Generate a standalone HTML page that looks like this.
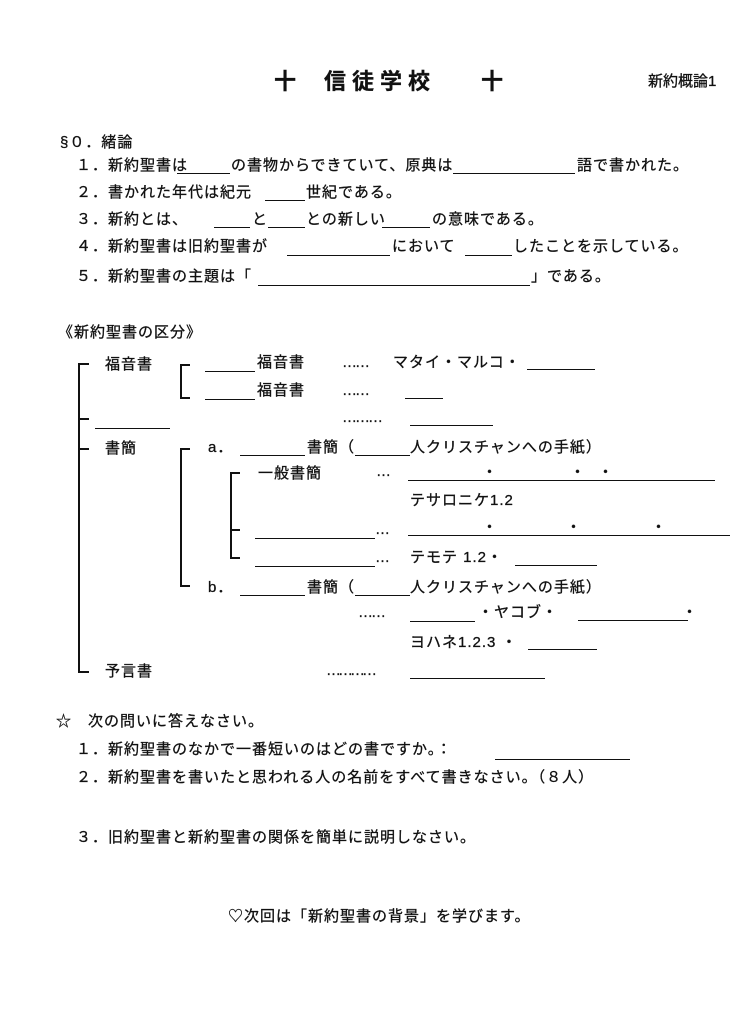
<!DOCTYPE html>
<html><head><meta charset="utf-8"><style>
body{margin:0;width:740px;height:1024px;background:#fff;position:relative;overflow:hidden;font-family:"Liberation Sans","Noto Sans CJK JP",sans-serif;color:#111}
.t{position:absolute;font-size:15px;line-height:16px;white-space:nowrap;letter-spacing:1px;-webkit-text-stroke:0.3px #111}
.l{position:absolute;border-top:1.3px solid #111;height:0}
.v{position:absolute;border-left:2px solid #111;width:0}
.h{position:absolute;border-top:2px solid #111;height:0}
.T{font-size:22px;line-height:22px;font-weight:bold;top:71px}
</style></head><body>
<div class="t T" style="left:274px">十</div>
<div class="t T" style="left:324px;letter-spacing:6px">信徒学校</div>
<div class="t T" style="left:481px">十</div>
<div class="t" style="left:648px;top:74px;letter-spacing:0">新約概論1</div>

<div class="t" style="left:60px;top:135px">§０．緒論</div>
<div class="t" style="left:76px;top:158px">１．新約聖書は</div><div class="l" style="left:177px;width:53px;top:173px"></div>
<div class="t" style="left:231px;top:158px">の書物からできていて、原典は</div><div class="l" style="left:453px;width:122px;top:173px"></div>
<div class="t" style="left:577px;top:158px">語で書かれた。</div>
<div class="t" style="left:76px;top:185px">２．書かれた年代は紀元</div><div class="l" style="left:265px;width:40px;top:200px"></div>
<div class="t" style="left:306px;top:185px">世紀である。</div>
<div class="t" style="left:76px;top:212px">３．新約とは、</div><div class="l" style="left:214px;width:36px;top:227px"></div>
<div class="t" style="left:252px;top:212px">と</div><div class="l" style="left:268px;width:37px;top:227px"></div>
<div class="t" style="left:306px;top:212px">との新しい</div><div class="l" style="left:382px;width:48px;top:227px"></div>
<div class="t" style="left:432px;top:212px">の意味である。</div>
<div class="t" style="left:76px;top:239px">４．新約聖書は旧約聖書が</div><div class="l" style="left:287px;width:103px;top:255px"></div>
<div class="t" style="left:392px;top:239px">において</div><div class="l" style="left:465px;width:47px;top:255px"></div>
<div class="t" style="left:513px;top:239px">したことを示している。</div>
<div class="t" style="left:76px;top:269px">５．新約聖書の主題は「</div><div class="l" style="left:258px;width:272px;top:285px"></div>
<div class="t" style="left:531px;top:269px">」である。</div>

<div class="t" style="left:58px;top:325px">《新約聖書の区分》</div>
<div class="v" style="left:78px;top:363px;height:310px"></div>
<div class="h" style="left:78px;top:363px;width:11px"></div>
<div class="h" style="left:78px;top:418px;width:11px"></div>
<div class="h" style="left:78px;top:448px;width:11px"></div>
<div class="h" style="left:78px;top:671px;width:11px"></div>
<div class="t" style="left:105px;top:357px">福音書</div>
<div class="v" style="left:180px;top:364px;height:34px"></div>
<div class="h" style="left:180px;top:364px;width:10px"></div>
<div class="h" style="left:180px;top:397px;width:10px"></div>
<div class="l" style="left:205px;width:50px;top:371px"></div><div class="t" style="left:257px;top:355px">福音書</div>
<div class="t" style="left:342px;top:355px;letter-spacing:-2px">……</div>
<div class="t" style="left:393px;top:355px">マタイ・マルコ・</div><div class="l" style="left:527px;width:68px;top:369px"></div>
<div class="l" style="left:205px;width:50px;top:399px"></div><div class="t" style="left:257px;top:383px">福音書</div>
<div class="t" style="left:342px;top:383px;letter-spacing:-2px">……</div><div class="l" style="left:405px;width:38px;top:398px"></div>
<div class="l" style="left:95px;width:75px;top:428px"></div>
<div class="t" style="left:342px;top:410px;letter-spacing:-2px">………</div><div class="l" style="left:410px;width:83px;top:425px"></div>

<div class="t" style="left:105px;top:441px">書簡</div>
<div class="v" style="left:180px;top:448px;height:138px"></div>
<div class="h" style="left:180px;top:448px;width:10px"></div>
<div class="h" style="left:180px;top:585px;width:10px"></div>
<div class="t" style="left:208px;top:440px">a．</div><div class="l" style="left:240px;width:65px;top:455px"></div>
<div class="t" style="left:307px;top:440px">書簡（</div><div class="l" style="left:355px;width:55px;top:455px"></div>
<div class="t" style="left:410px;top:440px">人クリスチャンへの手紙）</div>
<div class="v" style="left:230px;top:472px;height:87px"></div>
<div class="h" style="left:230px;top:472px;width:10px"></div>
<div class="h" style="left:230px;top:529px;width:10px"></div>
<div class="h" style="left:230px;top:557px;width:10px"></div>
<div class="t" style="left:258px;top:466px">一般書簡</div>
<div class="t" style="left:376px;top:464px;letter-spacing:-2px">…</div>
<div class="l" style="left:408px;width:307px;top:480px"></div>
<div class="t" style="left:482px;top:465px">・</div><div class="t" style="left:570px;top:465px">・</div><div class="t" style="left:598px;top:465px">・</div>
<div class="t" style="left:410px;top:493px">テサロニケ1.2</div>
<div class="l" style="left:255px;width:120px;top:538px"></div>
<div class="t" style="left:375px;top:522px;letter-spacing:-2px">…</div>
<div class="l" style="left:408px;width:322px;top:535px"></div>
<div class="t" style="left:482px;top:520px">・</div><div class="t" style="left:566px;top:520px">・</div><div class="t" style="left:651px;top:520px">・</div>
<div class="l" style="left:255px;width:120px;top:566px"></div>
<div class="t" style="left:375px;top:550px;letter-spacing:-2px">…</div>
<div class="t" style="left:410px;top:550px">テモテ 1.2・</div><div class="l" style="left:515px;width:82px;top:565px"></div>
<div class="t" style="left:208px;top:580px">b．</div><div class="l" style="left:240px;width:65px;top:595px"></div>
<div class="t" style="left:307px;top:580px">書簡（</div><div class="l" style="left:355px;width:55px;top:595px"></div>
<div class="t" style="left:410px;top:580px">人クリスチャンへの手紙）</div>
<div class="t" style="left:358px;top:605px;letter-spacing:-2px">……</div>
<div class="l" style="left:410px;width:65px;top:621px"></div>
<div class="t" style="left:478px;top:605px">・ヤコブ・</div><div class="l" style="left:578px;width:110px;top:620px"></div>
<div class="t" style="left:682px;top:605px">・</div>
<div class="t" style="left:410px;top:635px">ヨハネ1.2.3 ・</div><div class="l" style="left:528px;width:69px;top:649px"></div>
<div class="t" style="left:105px;top:664px">予言書</div>
<div class="t" style="left:326px;top:663px;letter-spacing:-3px">…………</div>
<div class="l" style="left:410px;width:135px;top:678px"></div>

<div class="t" style="left:56px;top:714px">☆　次の問いに答えなさい。</div>
<div class="t" style="left:76px;top:742px">１．新約聖書のなかで一番短いのはどの書ですか。：</div><div class="l" style="left:495px;width:135px;top:759px"></div>
<div class="t" style="left:76px;top:770px">２．新約聖書を書いたと思われる人の名前をすべて書きなさい。（８人）</div>
<div class="t" style="left:76px;top:830px">３．旧約聖書と新約聖書の関係を簡単に説明しなさい。</div>
<div class="t" style="left:228px;top:909px">♡次回は「新約聖書の背景」を学びます。</div>
</body></html>
